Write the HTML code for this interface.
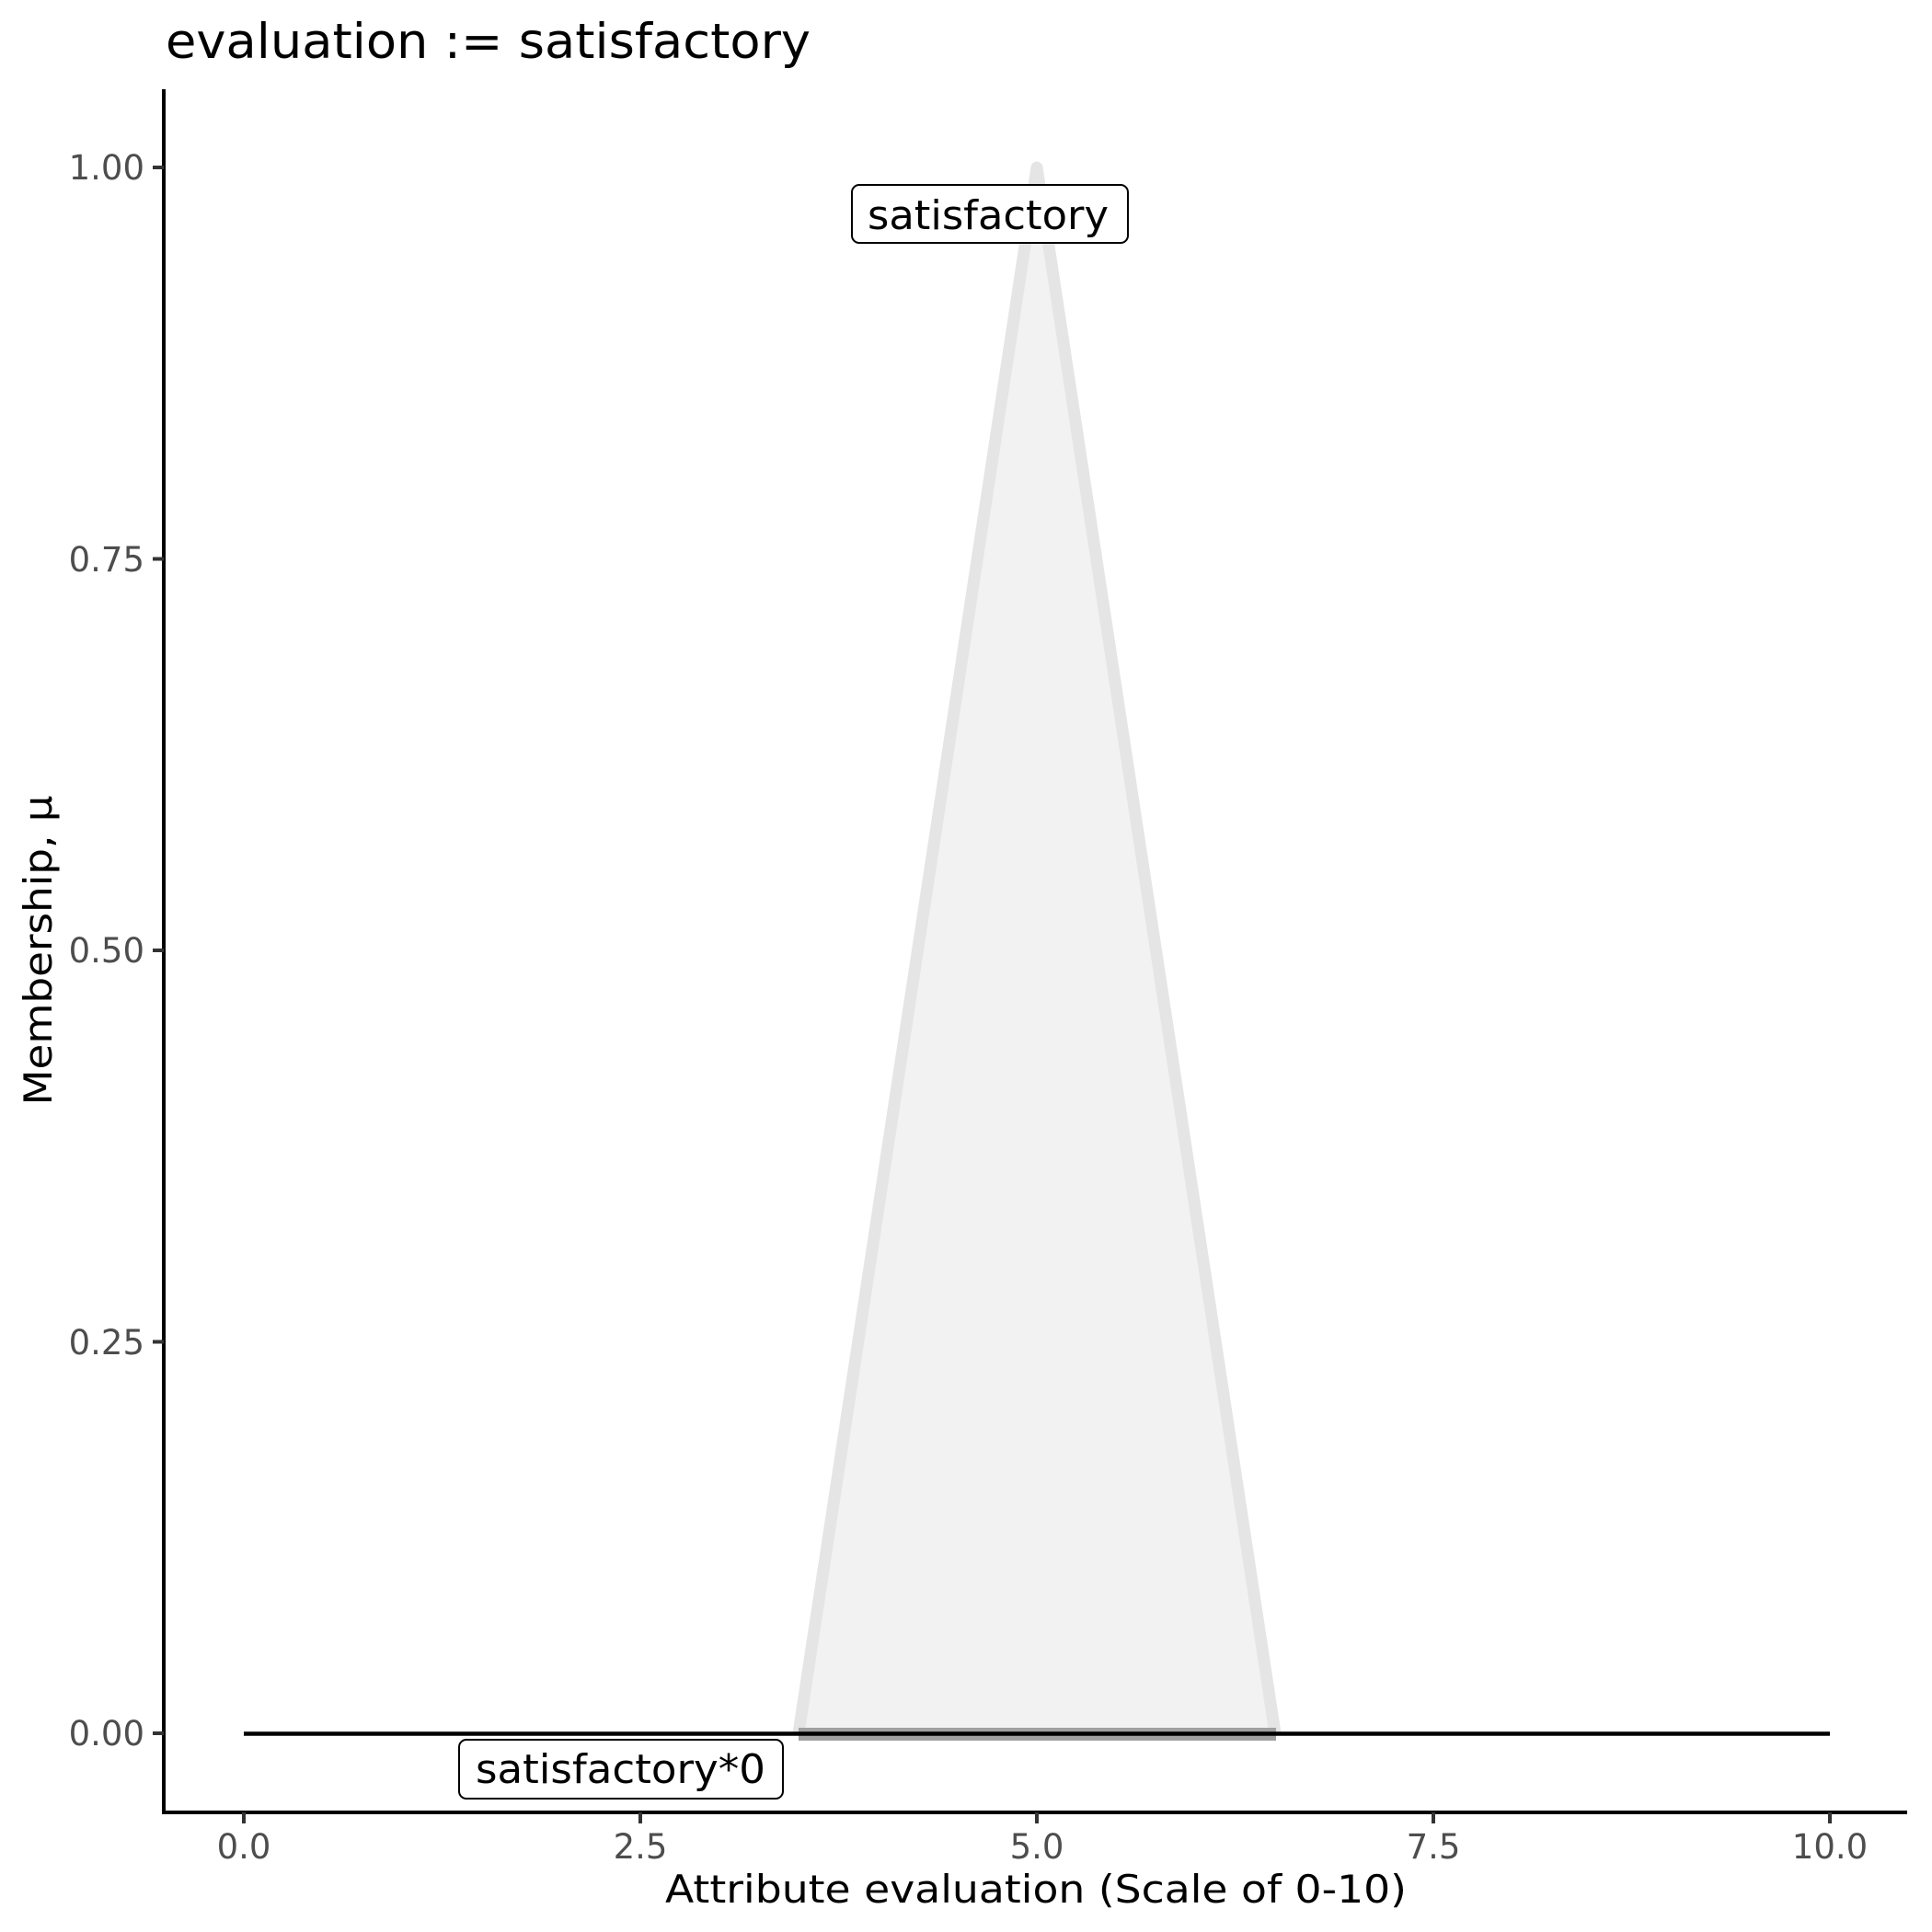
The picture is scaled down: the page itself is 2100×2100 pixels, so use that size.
<!DOCTYPE html>
<html><head><meta charset="utf-8"><style>html,body{margin:0;padding:0;background:#fff}svg{display:block}</style></head>
<body>
<svg width="2100" height="2100" viewBox="0 0 2100 2100" xmlns="http://www.w3.org/2000/svg" font-family="DejaVu Sans, Liberation Sans, sans-serif">
<rect width="2100" height="2100" fill="#fff"/>
<text x="180" y="63" font-size="53" fill="#000" textLength="701" lengthAdjust="spacingAndGlyphs">evaluation := satisfactory</text>
<polygon points="868,1884 1127,182 1386,1884" fill="#f2f2f2"/>
<polyline points="868,1884 1127,182 1386,1884" fill="none" stroke="#e5e5e5" stroke-width="13" stroke-linejoin="round" stroke-linecap="butt"/>
<line x1="868" y1="1885" x2="1387" y2="1885" stroke="#a0a0a0" stroke-width="14"/>
<line x1="265" y1="1884.5" x2="1989" y2="1884.5" stroke="#000" stroke-width="4.5"/>
<rect x="926" y="201" width="300" height="63" rx="8" fill="#fff" stroke="#000" stroke-width="2"/>
<text x="943" y="249" font-size="44" textLength="262" lengthAdjust="spacingAndGlyphs">satisfactory</text>
<rect x="499" y="1891" width="352" height="64" rx="8" fill="#fff" stroke="#000" stroke-width="2"/>
<text x="517" y="1938" font-size="44" textLength="315" lengthAdjust="spacingAndGlyphs">satisfactory*0</text>
<line x1="178" y1="97" x2="178" y2="1972" stroke="#000" stroke-width="4"/>
<line x1="176" y1="1970" x2="2073" y2="1970" stroke="#000" stroke-width="4"/>
<g stroke="#333" stroke-width="4">
<line x1="166" y1="182" x2="178" y2="182"/>
<line x1="166" y1="607.5" x2="178" y2="607.5"/>
<line x1="166" y1="1033" x2="178" y2="1033"/>
<line x1="166" y1="1458.5" x2="178" y2="1458.5"/>
<line x1="166" y1="1884" x2="178" y2="1884"/>
<line x1="265" y1="1970" x2="265" y2="1982"/>
<line x1="696" y1="1970" x2="696" y2="1982"/>
<line x1="1127" y1="1970" x2="1127" y2="1982"/>
<line x1="1558" y1="1970" x2="1558" y2="1982"/>
<line x1="1989" y1="1970" x2="1989" y2="1982"/>
</g>
<g font-size="37" fill="#4d4d4d" text-anchor="end">
<text x="157" y="195">1.00</text>
<text x="157" y="621">0.75</text>
<text x="157" y="1046">0.50</text>
<text x="157" y="1472">0.25</text>
<text x="157" y="1897">0.00</text>
</g>
<g font-size="37" fill="#4d4d4d" text-anchor="middle">
<text x="265" y="2020">0.0</text>
<text x="696" y="2020">2.5</text>
<text x="1127" y="2020">5.0</text>
<text x="1558" y="2020">7.5</text>
<text x="1989" y="2020">10.0</text>
</g>
<text x="1126" y="2068" font-size="42" text-anchor="middle" textLength="806" lengthAdjust="spacingAndGlyphs">Attribute evaluation (Scale of 0-10)</text>
<text transform="translate(56,1033) rotate(-90)" font-size="42" text-anchor="middle" textLength="337" lengthAdjust="spacingAndGlyphs">Membership, μ</text>
</svg>
</body></html>
